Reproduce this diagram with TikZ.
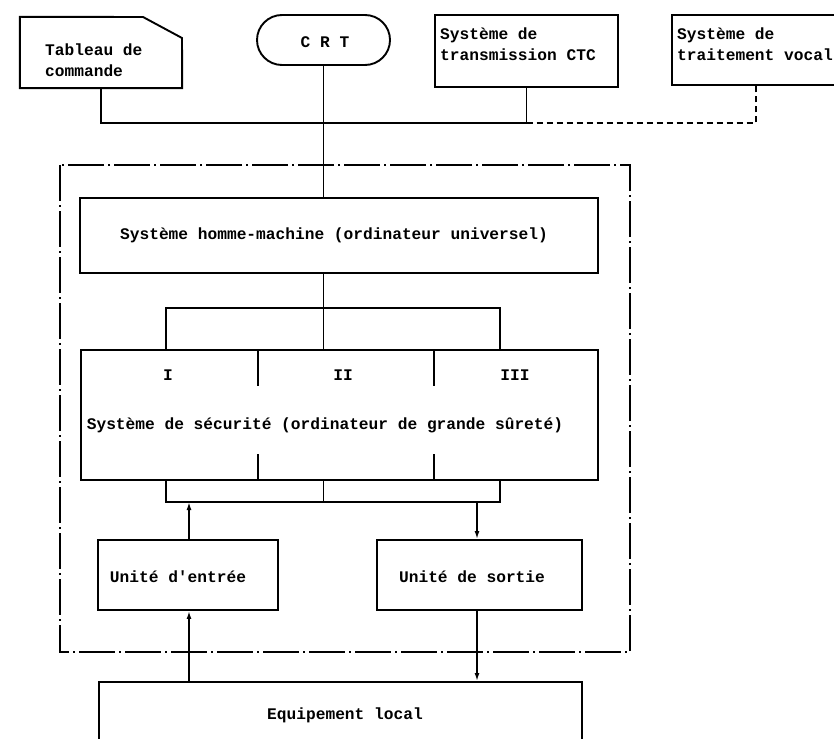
\documentclass[tikz,border=0pt]{standalone}
\usepackage{fontspec}
\setmainfont{Liberation Mono}
\usetikzlibrary{arrows.meta,calc}
\begin{document}
\begin{tikzpicture}[x=1pt,y=-1pt,
  box/.style={draw, line width=1.9pt, inner sep=0pt},
  lbl/.style={font=\fontsize{16.2}{21}\selectfont\bfseries, inner sep=0pt},
  wire/.style={line width=1.7pt},
  arr/.style={wire, -{Latex[length=8pt,width=5pt]}},
  dashwire/.style={wire, dash pattern=on 6pt off 4pt},
  frame/.style={line width=1.7pt, dash pattern=on 36pt off 4pt on 2pt off 4pt}]
\useasboundingbox (0,0) rectangle (834,738);
\clip (0,0) rectangle (834,738);

% top row
\node[minimum width=162pt, minimum height=71pt, inner sep=0pt] (tab) at (101,52.5) {};
\draw[box] (tab.north west) -- (143,17) -- (182,38) -- (tab.south east) -- (tab.south west) -- cycle;
\node[lbl, align=left, anchor=west] (tabt) at (45,60) {Tableau de\\commande};

\node[box, rounded corners=25pt, minimum width=133pt, minimum height=50pt] (crt) at (323.5,40) {};
\node[lbl] (crtt) at (325,42) {C R T};

\node[box, minimum width=183pt, minimum height=72pt] (ctc) at (526.5,51) {};
\node[lbl, align=left, anchor=west] (ctct) at (440,44) {Système de\\transmission CTC};

\node[box, minimum width=168pt, minimum height=70pt] (voc) at (756,50) {};
\node[lbl, align=left, anchor=west] (voct) at (677,44) {Système de\\traitement vocal};

\coordinate (bus) at (0,123);
\draw[wire] (tab.south) |- (bus -| ctc.south) -- (ctc.south);
\draw[dashwire] (bus -| ctc.south) -| (voc.south);

% frame
\draw[frame] (60,165) rectangle (630,652);

% man-machine system
\node[box, minimum width=518pt, minimum height=75pt] (shm) at (339,235.5) {};
\node[lbl] (shmt) at (334,235) {Système homme-machine (ordinateur universel)};
\draw[wire] (crt.south) -- (crt.south |- shm.north);

% security system
\node[box, minimum width=517pt, minimum height=130pt] (sec) at (339.5,415) {};
\node[lbl] (sect) at (325,425) {Système de sécurité (ordinateur de grande sûreté)};
\node[lbl] (s1) at (168,375) {I};
\node[lbl] (s2) at (343,375) {II};
\node[lbl] (s3) at (515,375) {III};

\coordinate (cI) at (166,0);
\coordinate (cIII) at (500,0);
\coordinate (dA) at (258,0);
\coordinate (dB) at (434,0);
\coordinate (b1) at (0,308);
\coordinate (b2) at (0,502);

\draw[wire] (crt.south |- shm.south) -- (crt.south |- sec.north);
\draw[wire] (cI |- sec.north) |- (b1 -| cIII) -- (cIII |- sec.north);
\draw[wire] (dA |- sec.north) -- ++(0,37);
\draw[wire] (dA |- sec.south) -- ++(0,-27);
\draw[wire] (dB |- sec.north) -- ++(0,37);
\draw[wire] (dB |- sec.south) -- ++(0,-27);
\draw[wire] (cI |- sec.south) |- (b2 -| cIII) -- (cIII |- sec.south);
\draw[wire] (crt.south |- sec.south) -- (crt.south |- b2);

% input / output units
\node[box, minimum width=180pt, minimum height=70pt] (ent) at (188,575) {};
\node[lbl] (entt) at (178,577) {Unité d\textquotesingle entrée};
\node[box, minimum width=205pt, minimum height=70pt] (sor) at (479.5,575) {};
\node[lbl] (sort) at (472,577) {Unité de sortie};

% local equipment
\node[box, minimum width=483pt, minimum height=78pt] (eq) at (340.5,721) {};
\node[lbl] (eqt) at (345,715) {Equipement local};

\coordinate (ain) at (189,0);
\coordinate (aout) at (477,0);
\draw[arr] (ain |- ent.north) -- (ain |- b2);
\draw[arr] (ain |- eq.north) -- (ain |- ent.south);
\draw[arr] (aout |- b2) -- (aout |- sor.north);
\draw[arr] (aout |- sor.south) -- (aout |- eq.north);
\end{tikzpicture}
\end{document}
